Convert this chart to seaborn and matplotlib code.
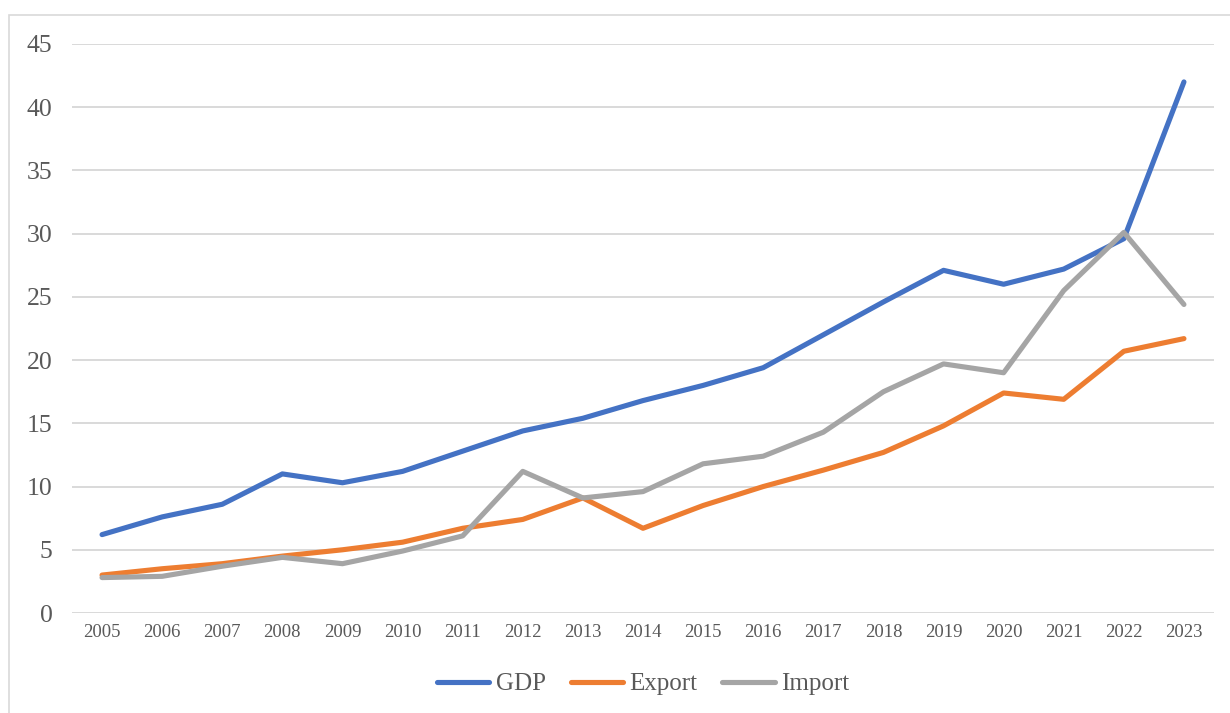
import matplotlib
matplotlib.use("Agg")
import matplotlib.pyplot as plt
import seaborn as sns
import pandas as pd
from matplotlib.patches import Rectangle

years = list(range(2005, 2024))
gdp = [6.2, 7.6, 8.6, 11.0, 10.3, 11.2, 12.8, 14.4, 15.4, 16.8, 18.0, 19.4,
       22.0, 24.6, 27.1, 26.0, 27.2, 29.6, 42.0]
export = [3.0, 3.5, 3.9, 4.5, 5.0, 5.6, 6.7, 7.4, 9.1, 6.7, 8.5, 10.0,
          11.3, 12.7, 14.8, 17.4, 16.9, 20.7, 21.7]
imports = [2.8, 2.9, 3.7, 4.4, 3.9, 4.9, 6.1, 11.2, 9.1, 9.6, 11.8, 12.4,
           14.3, 17.5, 19.7, 19.0, 25.5, 30.1, 24.4]
series_names = ["GDP", "Export", "Import"]
colors = ["#4472C4", "#ED7D31", "#A5A5A5"]

df = pd.DataFrame({
    "Year": years * 3,
    "Value": gdp + export + imports,
    "Series": [series_names[0]] * len(years) + [series_names[1]] * len(years) + [series_names[2]] * len(years),
})

sns.set_theme(style="white")
plt.rcParams["font.family"] = ["Liberation Serif", "DejaVu Serif"]

fig = plt.figure(figsize=(12.3, 7.13), dpi=100)
ax = fig.add_axes([72 / 1230, 1 - 613 / 713, (1214 - 72) / 1230, (613 - 44) / 713])

fig.patches.append(Rectangle((9 / 1230, -0.05), 1.1, 1 - 15 / 713 + 0.05,
                             transform=fig.transFigure, fill=False,
                             edgecolor="#D9D9D9", linewidth=1.2, zorder=0))

sns.lineplot(data=df, x="Year", y="Value", hue="Series", palette=colors,
             linewidth=3.7, ax=ax, solid_capstyle="round", solid_joinstyle="round")

ax.set_xlim(2004.5, 2023.5)
ax.set_ylim(0, 45)
ax.set_yticks(range(0, 46, 5))
ax.set_xticks(years)
ax.set_xticklabels([str(y) for y in years])
ax.grid(axis="y", color="#D9D9D9", linewidth=1.4)
ax.grid(axis="x", visible=False)
ax.set_axisbelow(True)
for s in ax.spines.values():
    s.set_visible(False)
ax.tick_params(axis="y", length=0, pad=14, labelsize=18.5, labelcolor="#595959")
ax.tick_params(axis="x", length=0, pad=8, labelsize=13.5, labelcolor="#595959")
ax.set_xlabel("")
ax.set_ylabel("")

leg = ax.legend(loc="center", bbox_to_anchor=(0.5, (1 - 684 / 713 - (1 - 613 / 713)) / ((613 - 44) / 713)),
                ncol=3, frameon=False, fontsize=18, handlelength=2.1,
                columnspacing=1.0, handletextpad=0.25, labelcolor="#595959")
for line in leg.get_lines():
    line.set_linewidth(3.7)
    line.set_solid_capstyle("round")

fig.savefig("out.png", dpi=100, facecolor="white")
